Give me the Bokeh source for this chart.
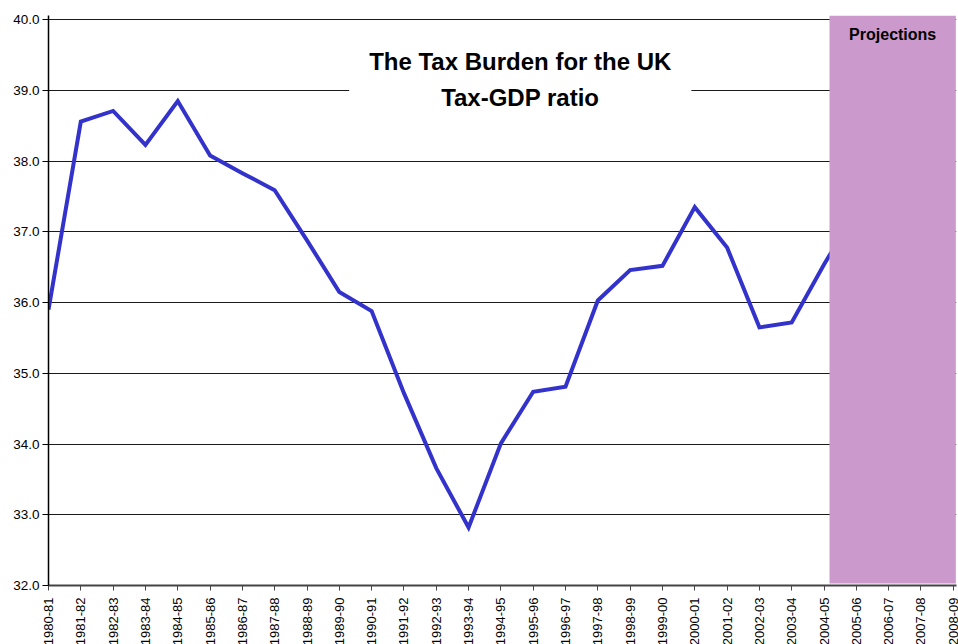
from bokeh.plotting import figure
from bokeh.models import Range1d, FixedTicker, Label, NumeralTickFormatter
from bokeh.embed import file_html
from bokeh.resources import INLINE
import math

years = ["1980-81", "1981-82", "1982-83", "1983-84", "1984-85", "1985-86",
         "1986-87", "1987-88", "1988-89", "1989-90", "1990-91", "1991-92",
         "1992-93", "1993-94", "1994-95", "1995-96", "1996-97", "1997-98",
         "1998-99", "1999-00", "2000-01", "2001-02", "2002-03", "2003-04",
         "2004-05", "2005-06", "2006-07", "2007-08", "2008-09"]

# Tax-GDP ratio (%), last point (2005-06) lies behind the projections panel
tax_ratio = [35.90, 38.56, 38.71, 38.23, 38.85, 38.08, 37.83, 37.59, 36.88,
             36.15, 35.88, 34.72, 33.66, 32.82, 34.01, 34.74, 34.81, 36.03,
             36.46, 36.52, 37.35, 36.78, 35.65, 35.72, 36.54, 37.30]

y_ticks = [32, 33, 34, 35, 36, 37, 38, 39, 40]
proj_first = "2004-05"
proj_last = "2008-09"

FONT = "Liberation Sans"

x_idx = list(range(len(tax_ratio)))

p = figure(frame_width=908, frame_height=570,
           x_range=Range1d(0, 28.1), y_range=Range1d(32, 40.06),
           output_backend="svg", toolbar_location=None,
           min_border_left=48, min_border_top=15, min_border_right=2,
           min_border_bottom=10)
p.outline_line_color = None
p.background_fill_color = "white"
p.border_fill_color = "white"

# grid
p.xgrid.grid_line_color = None
p.ygrid.ticker = FixedTicker(ticks=y_ticks)
p.ygrid.grid_line_color = "#1a1a1a"
p.ygrid.grid_line_width = 1

# y axis
p.yaxis.ticker = FixedTicker(ticks=y_ticks)
p.yaxis.formatter = NumeralTickFormatter(format="0.0")
p.yaxis.major_tick_out = 6
p.yaxis.major_tick_in = 0
p.yaxis.minor_tick_line_color = None
p.yaxis.axis_line_color = "black"
p.yaxis.axis_line_width = 1.5
p.yaxis.major_tick_line_color = "black"
p.yaxis.major_label_standoff = 3
p.yaxis.major_label_text_font = FONT
p.yaxis.major_label_text_font_size = "13.5px"
p.yaxis.major_label_text_color = "black"

# x axis
p.xaxis.ticker = FixedTicker(ticks=list(range(len(years))))
p.xaxis.major_label_overrides = {i: y for i, y in enumerate(years)}
p.xaxis.major_label_orientation = math.pi / 2
p.xaxis.major_tick_out = 5
p.xaxis.major_tick_in = 0
p.xaxis.minor_tick_line_color = None
p.xaxis.axis_line_color = "#444444"
p.xaxis.axis_line_width = 2
p.xaxis.major_tick_line_color = "#444444"
p.xaxis.major_label_standoff = 7
p.xaxis.major_label_text_font = FONT
p.xaxis.major_label_text_font_size = "13px"
p.xaxis.major_label_text_color = "black"

# data line
p.line(x_idx, tax_ratio, line_color="#3333CC", line_width=4, line_join="miter")

# projections panel
i0 = years.index(proj_first)
i1 = years.index(proj_last)
p.quad(left=[i0 + 0.17], right=[i1 + 0.08], bottom=[32.03], top=[40.06],
       fill_color="#CC99CC", line_color=None)

p.add_layout(Label(x=(i0 + 0.17 + i1 + 0.08) / 2, y=39.79, text="Projections",
                   text_font=FONT, text_font_style="bold", text_font_size="16px",
                   text_align="center", text_baseline="middle",
                   text_color="black"))

# title box
p.add_layout(Label(x=14.6, y=39.155,
                   text="The Tax Burden for the UK\nTax-GDP ratio",
                   text_font=FONT, text_font_style="bold", text_font_size="24px",
                   text_align="center", text_baseline="middle",
                   text_line_height=1.33, text_color="black",
                   background_fill_color="white", padding=20))

open("out.html", "w").write(file_html(p, INLINE))
